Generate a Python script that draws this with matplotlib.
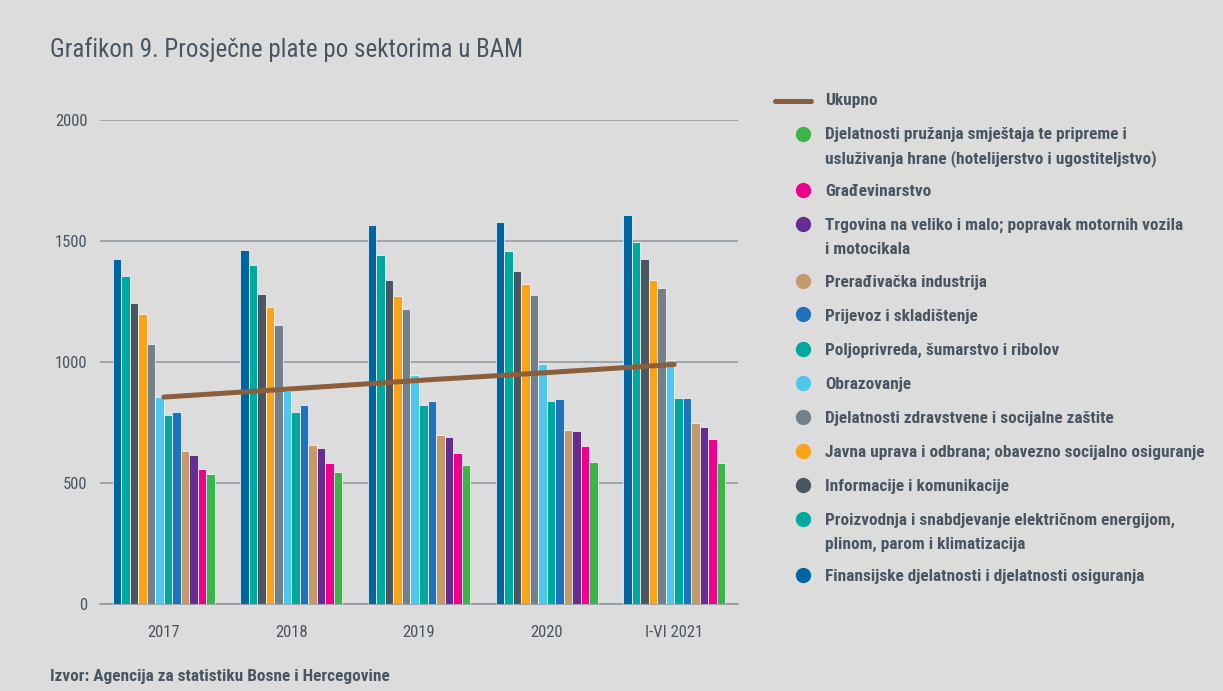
import numpy as np
import matplotlib

matplotlib.use('Agg')
import matplotlib.pyplot as plt
from matplotlib import font_manager
from matplotlib.lines import Line2D

# ==========================================
# 数据
# ==========================================
years = ['2017', '2018', '2019', '2020', 'I-VI 2021']

# redoslijed stubića u grupi (lijevo -> desno)
sectors = [
    'Finansijske djelatnosti i djelatnosti osiguranja',
    'Proizvodnja i snabdjevanje električnom energijom,\nplinom, parom i klimatizacija',
    'Informacije i komunikacije',
    'Javna uprava i odbrana; obavezno socijalno osiguranje',
    'Djelatnosti zdravstvene i socijalne zaštite',
    'Obrazovanje',
    'Poljoprivreda, šumarstvo i ribolov',
    'Prijevoz i skladištenje',
    'Prerađivačka industrija',
    'Trgovina na veliko i malo; popravak motornih vozila\ni motocikala',
    'Građevinarstvo',
    'Djelatnosti pružanja smještaja te pripreme i\nusluživanja hrane (hotelijerstvo i ugostiteljstvo)',
]

finansije = [1425, 1463, 1566, 1579, 1607]
energija = [1355, 1401, 1442, 1459, 1496]
informacije = [1244, 1281, 1339, 1376, 1426]
javna_uprava = [1198, 1227, 1273, 1322, 1339]
zdravstvo = [1074, 1153, 1219, 1277, 1306]
obrazovanje = [855, 880, 946, 992, 1008]
poljoprivreda = [781, 793, 822, 839, 851]
prijevoz = [793, 822, 839, 847, 851]
preradjivacka = [632, 657, 698, 719, 748]
trgovina = [616, 645, 690, 715, 731]
gradjevinarstvo = [558, 583, 624, 653, 682]
hotelijerstvo = [537, 545, 574, 587, 583]

ukupno = [855, 889, 924, 956, 990]

values = [finansije, energija, informacije, javna_uprava, zdravstvo, obrazovanje,
          poljoprivreda, prijevoz, preradjivacka, trgovina, gradjevinarstvo, hotelijerstvo]

colors = ['#0066a1', '#00a99d', '#4a5763', '#f9a31b', '#737f89', '#4dc7ec',
          '#00a79c', '#1f72bc', '#c4996b', '#662d91', '#ec008c', '#39b54a']
line_color = '#8b5e3c'
text_color = '#4a5562'
grid_color = '#8c959d'
bg = '#dcdcdc'

# ==========================================
# font
# ==========================================
installed = {f.name for f in font_manager.fontManager.ttflist}
family = 'DejaVu Sans'
for cand in ['Liberation Sans Narrow', 'Roboto Condensed', 'Open Sans Condensed', 'Noto Sans']:
    if cand in installed:
        family = cand
        break
plt.rcParams['font.family'] = [family, 'DejaVu Sans']

W, H = 1223, 691
fig = plt.figure(figsize=(W / 100, H / 100), dpi=100, facecolor=bg)
ax = fig.add_axes([100 / W, 1 - 604 / H, 638 / W, 484 / H], facecolor=bg)

x = np.arange(len(years))
n = len(values)
group_w = 0.8
bw = group_w / n
for i, (vals, c) in enumerate(zip(values, colors)):
    ax.bar(x - group_w / 2 + bw * (i + 0.5), vals, width=bw, color=c,
           edgecolor='white', linewidth=0.5, zorder=3)

ax.plot(x, ukupno, color=line_color, lw=3.6, solid_capstyle='round', zorder=4)

ax.set_xlim(-0.5, 4.5)
ax.set_ylim(0, 2000)
ax.set_yticks([0, 500, 1000, 1500, 2000])
ax.set_xticks(x)
ax.set_xticklabels(years)
ax.grid(axis='y', color=grid_color, lw=1.1, zorder=0)
for s in ['top', 'right', 'left']:
    ax.spines[s].set_visible(False)
ax.spines['bottom'].set_color(grid_color)
ax.spines['bottom'].set_linewidth(1.1)
ax.tick_params(length=0, labelsize=12, colors=text_color)
ax.tick_params(axis='y', pad=9)
ax.tick_params(axis='x', pad=15)

# naslov i izvor
fig.text(50 / W, 1 - 50 / H, 'Grafikon 9. Prosječne plate po sektorima u BAM',
         fontsize=18, color=text_color, va='center', ha='left')
fig.text(50 / W, 1 - 676 / H, 'Izvor: Agencija za statistiku Bosne i Hercegovine',
         fontsize=12.4, fontweight='bold', color=text_color, va='center', ha='left')

# ==========================================
# legenda (ručno)
# ==========================================
def fx(px):
    return px / W


def fy(py):
    return 1 - py / H


lfs = 12.4
y = 101
fig.add_artist(Line2D([fx(775), fx(811)], [fy(y), fy(y)], color=line_color, lw=3.6,
                      solid_capstyle='round'))
fig.text(fx(825), fy(y), 'Ukupno', fontsize=lfs, fontweight='bold', color=text_color,
         va='center', ha='left')
prev_lines = 1
for label, c in reversed(list(zip(sectors, colors))):
    y += 34 if prev_lines == 1 else 32.5
    lines = label.split('\n')
    fig.add_artist(Line2D([fx(803)], [fy(y - 1.5)], marker='o', ms=10, color=c, lw=0))
    for k, ln in enumerate(lines):
        fig.text(fx(825), fy(y + 24 * k), ln, fontsize=lfs, fontweight='bold',
                 color=text_color, va='center', ha='left')
    y += 24 * (len(lines) - 1)
    prev_lines = len(lines)

plt.savefig('out.png', dpi=100, facecolor=bg)
print('font:', family)
